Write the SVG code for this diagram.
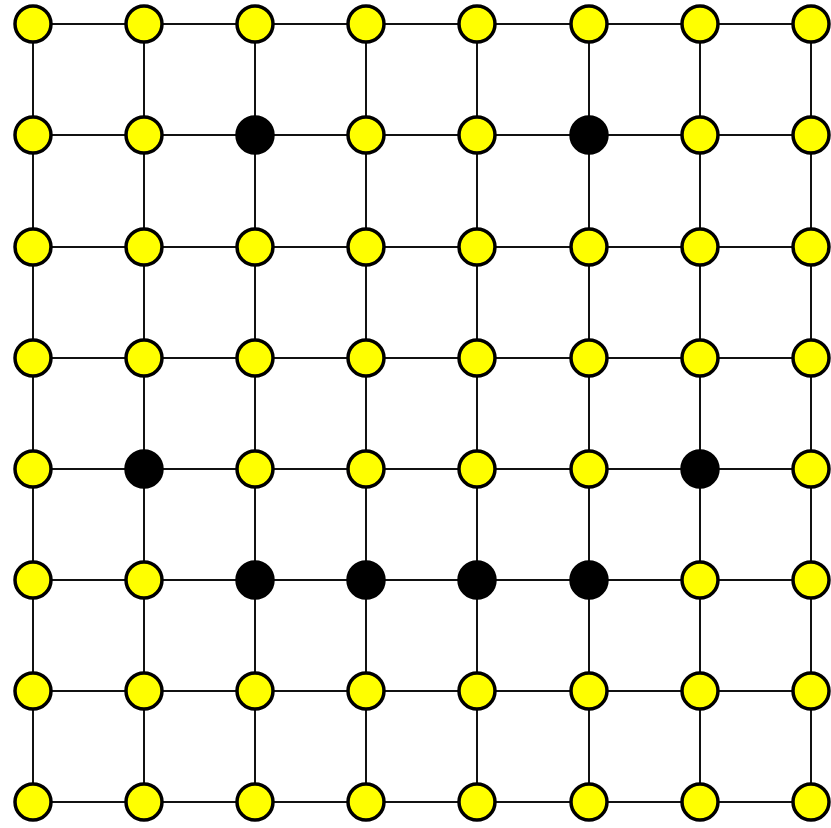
<svg xmlns="http://www.w3.org/2000/svg" width="831" height="828" viewBox="0 0 831 828">
<style>
.e{stroke:#111;stroke-width:2;fill:none}
.n{fill:#ffff00;stroke:#000;stroke-width:3.5}
.b{fill:#000;stroke:#000;stroke-width:3.5}
</style>
<rect width="831" height="828" fill="#fff"/>
<g id="edges" class="e">
<path d="M33 24H811M33 135H811M33 247H811M33 358H811M33 469H811M33 580H811M33 691H811M33 802H811"/>
<path d="M33 24V802M144 24V802M255 24V802M366 24V802M477 24V802M589 24V802M700 24V802M811 24V802"/>
</g>
<g id="n0_0"><circle class="n" cx="33" cy="24" r="18"/></g>
<g id="n0_1"><circle class="n" cx="144" cy="24" r="18"/></g>
<g id="n0_2"><circle class="n" cx="255" cy="24" r="18"/></g>
<g id="n0_3"><circle class="n" cx="366" cy="24" r="18"/></g>
<g id="n0_4"><circle class="n" cx="477" cy="24" r="18"/></g>
<g id="n0_5"><circle class="n" cx="589" cy="24" r="18"/></g>
<g id="n0_6"><circle class="n" cx="700" cy="24" r="18"/></g>
<g id="n0_7"><circle class="n" cx="811" cy="24" r="18"/></g>
<g id="n1_0"><circle class="n" cx="33" cy="135" r="18"/></g>
<g id="n1_1"><circle class="n" cx="144" cy="135" r="18"/></g>
<g id="n1_2"><circle class="b" cx="255" cy="135" r="18"/></g>
<g id="n1_3"><circle class="n" cx="366" cy="135" r="18"/></g>
<g id="n1_4"><circle class="n" cx="477" cy="135" r="18"/></g>
<g id="n1_5"><circle class="b" cx="589" cy="135" r="18"/></g>
<g id="n1_6"><circle class="n" cx="700" cy="135" r="18"/></g>
<g id="n1_7"><circle class="n" cx="811" cy="135" r="18"/></g>
<g id="n2_0"><circle class="n" cx="33" cy="247" r="18"/></g>
<g id="n2_1"><circle class="n" cx="144" cy="247" r="18"/></g>
<g id="n2_2"><circle class="n" cx="255" cy="247" r="18"/></g>
<g id="n2_3"><circle class="n" cx="366" cy="247" r="18"/></g>
<g id="n2_4"><circle class="n" cx="477" cy="247" r="18"/></g>
<g id="n2_5"><circle class="n" cx="589" cy="247" r="18"/></g>
<g id="n2_6"><circle class="n" cx="700" cy="247" r="18"/></g>
<g id="n2_7"><circle class="n" cx="811" cy="247" r="18"/></g>
<g id="n3_0"><circle class="n" cx="33" cy="358" r="18"/></g>
<g id="n3_1"><circle class="n" cx="144" cy="358" r="18"/></g>
<g id="n3_2"><circle class="n" cx="255" cy="358" r="18"/></g>
<g id="n3_3"><circle class="n" cx="366" cy="358" r="18"/></g>
<g id="n3_4"><circle class="n" cx="477" cy="358" r="18"/></g>
<g id="n3_5"><circle class="n" cx="589" cy="358" r="18"/></g>
<g id="n3_6"><circle class="n" cx="700" cy="358" r="18"/></g>
<g id="n3_7"><circle class="n" cx="811" cy="358" r="18"/></g>
<g id="n4_0"><circle class="n" cx="33" cy="469" r="18"/></g>
<g id="n4_1"><circle class="b" cx="144" cy="469" r="18"/></g>
<g id="n4_2"><circle class="n" cx="255" cy="469" r="18"/></g>
<g id="n4_3"><circle class="n" cx="366" cy="469" r="18"/></g>
<g id="n4_4"><circle class="n" cx="477" cy="469" r="18"/></g>
<g id="n4_5"><circle class="n" cx="589" cy="469" r="18"/></g>
<g id="n4_6"><circle class="b" cx="700" cy="469" r="18"/></g>
<g id="n4_7"><circle class="n" cx="811" cy="469" r="18"/></g>
<g id="n5_0"><circle class="n" cx="33" cy="580" r="18"/></g>
<g id="n5_1"><circle class="n" cx="144" cy="580" r="18"/></g>
<g id="n5_2"><circle class="b" cx="255" cy="580" r="18"/></g>
<g id="n5_3"><circle class="b" cx="366" cy="580" r="18"/></g>
<g id="n5_4"><circle class="b" cx="477" cy="580" r="18"/></g>
<g id="n5_5"><circle class="b" cx="589" cy="580" r="18"/></g>
<g id="n5_6"><circle class="n" cx="700" cy="580" r="18"/></g>
<g id="n5_7"><circle class="n" cx="811" cy="580" r="18"/></g>
<g id="n6_0"><circle class="n" cx="33" cy="691" r="18"/></g>
<g id="n6_1"><circle class="n" cx="144" cy="691" r="18"/></g>
<g id="n6_2"><circle class="n" cx="255" cy="691" r="18"/></g>
<g id="n6_3"><circle class="n" cx="366" cy="691" r="18"/></g>
<g id="n6_4"><circle class="n" cx="477" cy="691" r="18"/></g>
<g id="n6_5"><circle class="n" cx="589" cy="691" r="18"/></g>
<g id="n6_6"><circle class="n" cx="700" cy="691" r="18"/></g>
<g id="n6_7"><circle class="n" cx="811" cy="691" r="18"/></g>
<g id="n7_0"><circle class="n" cx="33" cy="802" r="18"/></g>
<g id="n7_1"><circle class="n" cx="144" cy="802" r="18"/></g>
<g id="n7_2"><circle class="n" cx="255" cy="802" r="18"/></g>
<g id="n7_3"><circle class="n" cx="366" cy="802" r="18"/></g>
<g id="n7_4"><circle class="n" cx="477" cy="802" r="18"/></g>
<g id="n7_5"><circle class="n" cx="589" cy="802" r="18"/></g>
<g id="n7_6"><circle class="n" cx="700" cy="802" r="18"/></g>
<g id="n7_7"><circle class="n" cx="811" cy="802" r="18"/></g>
</svg>
